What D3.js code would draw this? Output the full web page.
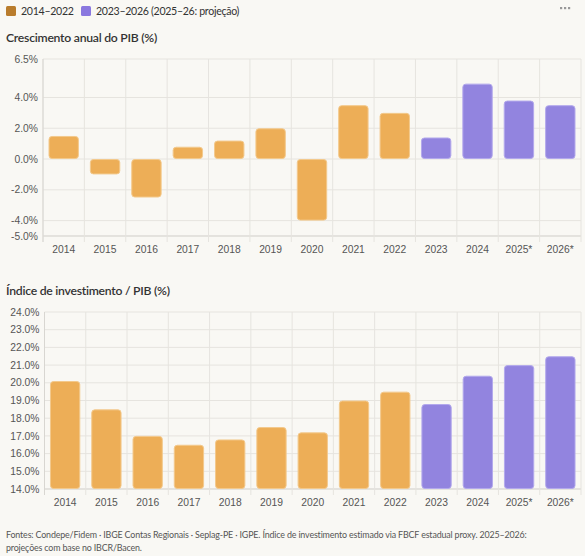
<!DOCTYPE html>
<html><head><meta charset="utf-8">
<script src="https://cdn.jsdelivr.net/npm/d3@7"></script>
<style>
html,body{margin:0;padding:0;background:#f9f8f4;}
svg{display:block;font-family:Lato, "Noto Sans", sans-serif;}
.tick{font-family:"Liberation Sans", Arial, sans-serif;}
</style></head>
<body>
<svg id="c" width="585" height="556"></svg>
<script>
const years = ["2014","2015","2016","2017","2018","2019","2020","2021","2022","2023","2024","2025*","2026*"];
const periodGroup = ["a","a","a","a","a","a","a","a","a","b","b","b","b"];
const gdpGrowth = [1.5,-1.0,-2.5,0.8,1.2,2.0,-4.0,3.5,3.0,1.4,4.9,3.8,3.5];
const investRatio = [20.1,18.5,17.0,16.5,16.8,17.5,17.2,19.0,19.5,18.8,20.4,21.0,21.5];
const topTicks = [-5,-4,-2,0,2,4,6.5];
const bottomTicks = [14,15,16,17,18,19,20,21,22,23,24];
const legendLabels = ["2014–2022","2023–2026 (2025–26: projeção)"];
const titles = ["Crescimento anual do PIB (%)","Índice de investimento / PIB (%)"];
const footer = ["Fontes: Condepe/Fidem · IBGE Contas Regionais · Seplag-PE · IGPE. Índice de investimento estimado via FBCF estadual proxy. 2025–2026:",
                "projeções com base no IBCR/Bacen."];

const barColor = {a:"#edae57", b:"#9284df"};
const swatchColor = ["#b97c2c","#8a78df"];
const svg = d3.select("#c");

const lg = svg.append("g");
const lx = [6, 81];
legendLabels.forEach((t,i)=>{
  lg.append("rect").attr("x",lx[i]).attr("y",6).attr("width",10).attr("height",10).attr("rx",1.5).attr("fill",swatchColor[i]);
  lg.append("text").attr("x",lx[i]+15).attr("y",15).attr("font-size",10.6).attr("letter-spacing",-0.3).attr("fill","#333").text(t);
});
[561,565,569].forEach(x=>svg.append("rect").attr("x",x-1).attr("y",7).attr("width",2.2).attr("height",2.2).attr("fill","#999"));

function panel(cfg){
  const g = svg.append("g");
  g.append("text").attr("x",6).attr("y",cfg.titleY).attr("font-size",12.2).attr("letter-spacing",-0.25).attr("font-weight",600).attr("fill","#333").text(cfg.title);
  const x = d3.scaleBand().domain(years).range([cfg.left,581]).paddingInner(0.29).paddingOuter(0.145);
  const y = d3.scaleLinear().domain(cfg.domain).range([cfg.bottom,cfg.top]);
  g.append("g").selectAll("line").data(cfg.ticks).join("line")
    .attr("x1",cfg.left).attr("x2",581).attr("y1",d=>y(d)).attr("y2",d=>y(d))
    .attr("stroke",d=>d===cfg.domain[0]?"#cfcdc8":"#e6e4df").attr("stroke-width",1);
  const step = x.step();
  const bounds = d3.range(years.length+1).map(i=>cfg.left + i*step);
  g.append("g").selectAll("line").data(bounds).join("line")
    .attr("x1",d=>d).attr("x2",d=>d).attr("y1",cfg.top).attr("y2",cfg.bottom+6)
    .attr("stroke","#e6e4df");
  g.append("line").attr("x1",cfg.left).attr("x2",cfg.left).attr("y1",cfg.top).attr("y2",cfg.bottom+6).attr("stroke","#d8d6d1");
  g.append("g").attr("class","tick").selectAll("text").data(cfg.ticks).join("text")
    .attr("x",cfg.left-5).attr("y",d=>y(d)).attr("dy","0.35em").attr("text-anchor","end")
    .attr("font-size",10.3).attr("fill","#555").text(d=>d.toFixed(1)+"%");
  g.append("g").attr("class","tick").selectAll("text").data(years).join("text")
    .attr("x",d=>x(d)+x.bandwidth()/2).attr("y",cfg.bottom+17).attr("text-anchor","middle")
    .attr("font-size",10.3).attr("fill","#555").text(d=>d);
  const base = cfg.base;
  g.append("g").selectAll("rect").data(cfg.values).join("rect")
    .attr("x",(d,i)=>x(years[i])).attr("width",x.bandwidth())
    .attr("y",d=>Math.min(y(d),y(base))+0.5)
    .attr("height",d=>Math.max(0,Math.abs(y(d)-y(base))-1))
    .attr("rx",3)
    .attr("fill",(d,i)=>barColor[periodGroup[i]])
    .attr("stroke",(d,i)=>periodGroup[i]==="a"?"#f3c98c":"#b3a9ec").attr("stroke-width",1);
}

panel({title:titles[0],titleY:42,left:43,top:59,bottom:236,domain:[-5,6.5],ticks:topTicks,values:gdpGrowth,base:0});
panel({title:titles[1],titleY:295,left:44.5,top:312,bottom:489,domain:[14,24],ticks:bottomTicks,values:investRatio,base:14});

footer.forEach((t,i)=>svg.append("text").attr("x",6).attr("y",538+i*13).attr("font-size",8.9).attr("letter-spacing",-0.15).attr("fill","#555").text(t));
</script>
</body></html>
